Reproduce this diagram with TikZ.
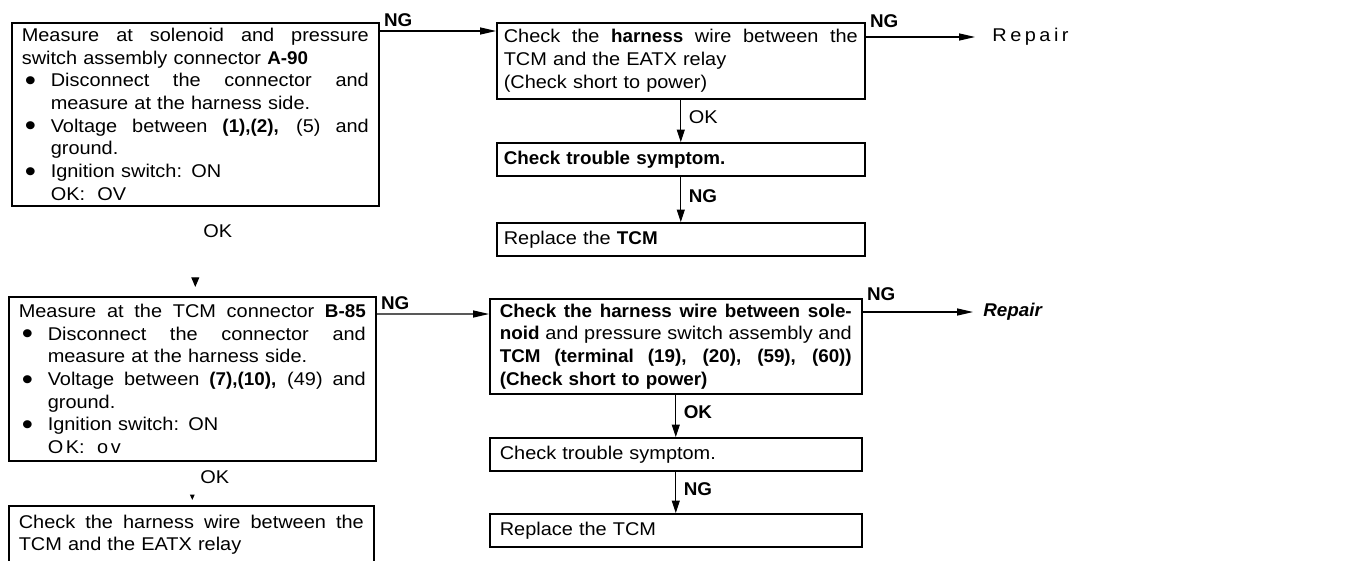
\documentclass[tikz,border=0pt]{standalone}
\usepackage{fontspec}
\usepackage{graphicx}
\setmainfont{Liberation Sans}[UprightFeatures={FakeStretch=1.08},BoldFeatures={FakeStretch=1.02},BoldItalicFeatures={FakeStretch=1.02}]
\usetikzlibrary{arrows.meta}
\newcommand{\bul}{\makebox[0.58cm][l]{\hspace{0.06cm}\raisebox{-0.2em}{\scalebox{1.6}{\textbullet}}}}
\newcommand{\jline}[1]{\makebox[\hsize][s]{\spaceskip=0pt\xspaceskip=0pt\relax #1}}
\newcommand{\bline}[1]{\bul\makebox[\dimexpr\hsize-0.58cm\relax][s]{\spaceskip=0pt\xspaceskip=0pt\relax #1}}
\newcommand{\bitem}[1]{\bul#1}
\newcommand{\iline}[1]{\hspace*{0.58cm}#1}

\begin{document}
\begin{tikzpicture}[every node/.style={font=\fontsize{10.5}{12.9}\selectfont},
    box/.style={draw, line width=0.9pt, anchor=north west, inner ysep=0pt, inner xsep=0.2cm, align=left},
    arr/.style={line width=0.6pt, -{Triangle[length=9pt,width=4pt]}},
    varr/.style={line width=0.6pt, -{Triangle[length=7pt,width=4.5pt]}},
    ng/.style={font=\fontsize{10.5}{12.9}\selectfont\bfseries, inner sep=0.08cm},
    lbl/.style={inner sep=0.15cm}]
      \path[use as bounding box, fill=white] (0,0) rectangle (27.14,-11.2);
      \node[box, text width=6.94cm, minimum height=3.66cm] (ms1) at (0.22,-0.44) {%
        \jline{Measure at solenoid and pressure}\\
        switch assembly connector \textbf{A-90}\\
        \bline{Disconnect the connector and}\\
        \iline{measure at the harness side.}\\
        \bline{Voltage between \textbf{(1),(2),} (5) and}\\
        \iline{ground.}\\
        \bitem{Ignition switch: ON}\\
        \iline{OK:\ \ OV}};
      \node[box, text width=6.94cm, minimum height=3.28cm] (ms2) at (0.16,-5.92) {%
        \jline{Measure at the TCM connector \textbf{B-85}}\\
        \bline{Disconnect the connector and}\\
        \iline{measure at the harness side.}\\
        \bline{Voltage between \textbf{(7),(10),} (49) and}\\
        \iline{ground.}\\
        \bitem{Ignition switch: ON}\\
        \iline{O\kern1.5pt K:\ \ o\kern1.5pt v}};
      \node[box, text width=6.9cm, minimum height=1.16cm] (ms3) at (0.16,-10.1) {%
        \jline{Check the harness wire between the}\\
        TCM and the EATX relay};
      \node[box, inner xsep=0.14cm, text width=7.08cm, minimum height=1.52cm] (hA) at (9.92,-0.44) {%
        \jline{Check the \textbf{harness} wire between the}\\
        TCM and the EATX relay\\
        (Check short to power)};
      \node[box, inner xsep=0.14cm, text width=7.08cm, minimum height=0.66cm] (tsA) at (9.92,-2.84) {\textbf{Check trouble symptom.}};
      \node[box, inner xsep=0.14cm, text width=7.08cm, minimum height=0.66cm] (rpA) at (9.92,-4.44) {Replace the \textbf{TCM}};
      \node[box, text width=7.04cm, minimum height=1.9cm] (hD) at (9.78,-5.96) {%
        \jline{\textbf{Check the harness wire between sole-}}\\
        \jline{\textbf{noid} and pressure switch assembly and}\\
        \jline{\textbf{TCM (terminal (19), (20), (59), (60))}}\\
        \textbf{(Check short to power)}};
      \node[box, text width=7.04cm, minimum height=0.66cm] (tsD) at (9.78,-8.74) {Check trouble symptom.};
      \node[box, text width=7.04cm, minimum height=0.66cm] (rpD) at (9.78,-10.26) {Replace the TCM};
      \node[anchor=west, inner sep=0pt] (rep1) at (19.84,-0.74) {R\kern2pt e\kern2pt p\kern2pt a\kern2pt i\kern2pt r};
      \node[anchor=west, inner sep=0pt] (rep2) at (19.66,-6.24) {\textbf{\textit{Repair}}};
      \draw[arr] ([yshift=-0.18cm]ms1.north east) -- node[ng, pos=0, above right]{NG} ([yshift=-0.18cm]hA.north west);
      \draw[arr, shorten >=0.34cm] ([yshift=-0.3cm]hA.north east) -- node[ng, pos=0, above right, yshift=0.1cm]{NG} (rep1);
      \draw[varr] (hA) -- node[lbl, right, pos=0.42]{OK} (tsA);
      \draw[varr] (tsA) -- node[ng, lbl, right, pos=0.42]{NG} (rpA);
      \draw[arr] ([yshift=-0.36cm]ms2.north east) -- node[ng, pos=0, above right]{NG} ([yshift=-0.32cm]hD.north west);
      \draw[arr, shorten >=0.2cm] ([yshift=-0.28cm]hD.north east) -- node[ng, pos=0, above right, yshift=0.14cm]{NG} (rep2);
      \draw[varr] (hD) -- node[ng, lbl, right, pos=0.42]{OK} (tsD);
      \draw[varr] (tsD) -- node[ng, lbl, right, pos=0.42]{NG} (rpD);
      \draw[line width=0.6pt, -{Triangle[length=5.5pt,width=4.5pt]}, shorten >=0.18cm, shorten <=1.42cm] (ms1.south) -- node[lbl, right, pos=0.27]{OK} (ms1.south |- ms2.north);
      \draw[line width=0.6pt, -{Triangle[length=3pt,width=2.5pt]}, shorten >=0.1cm, shorten <=0.68cm] (ms2.south) -- node[lbl, right, pos=0.36]{OK} (ms2.south |- ms3.north);
    \end{tikzpicture}
\end{document}
